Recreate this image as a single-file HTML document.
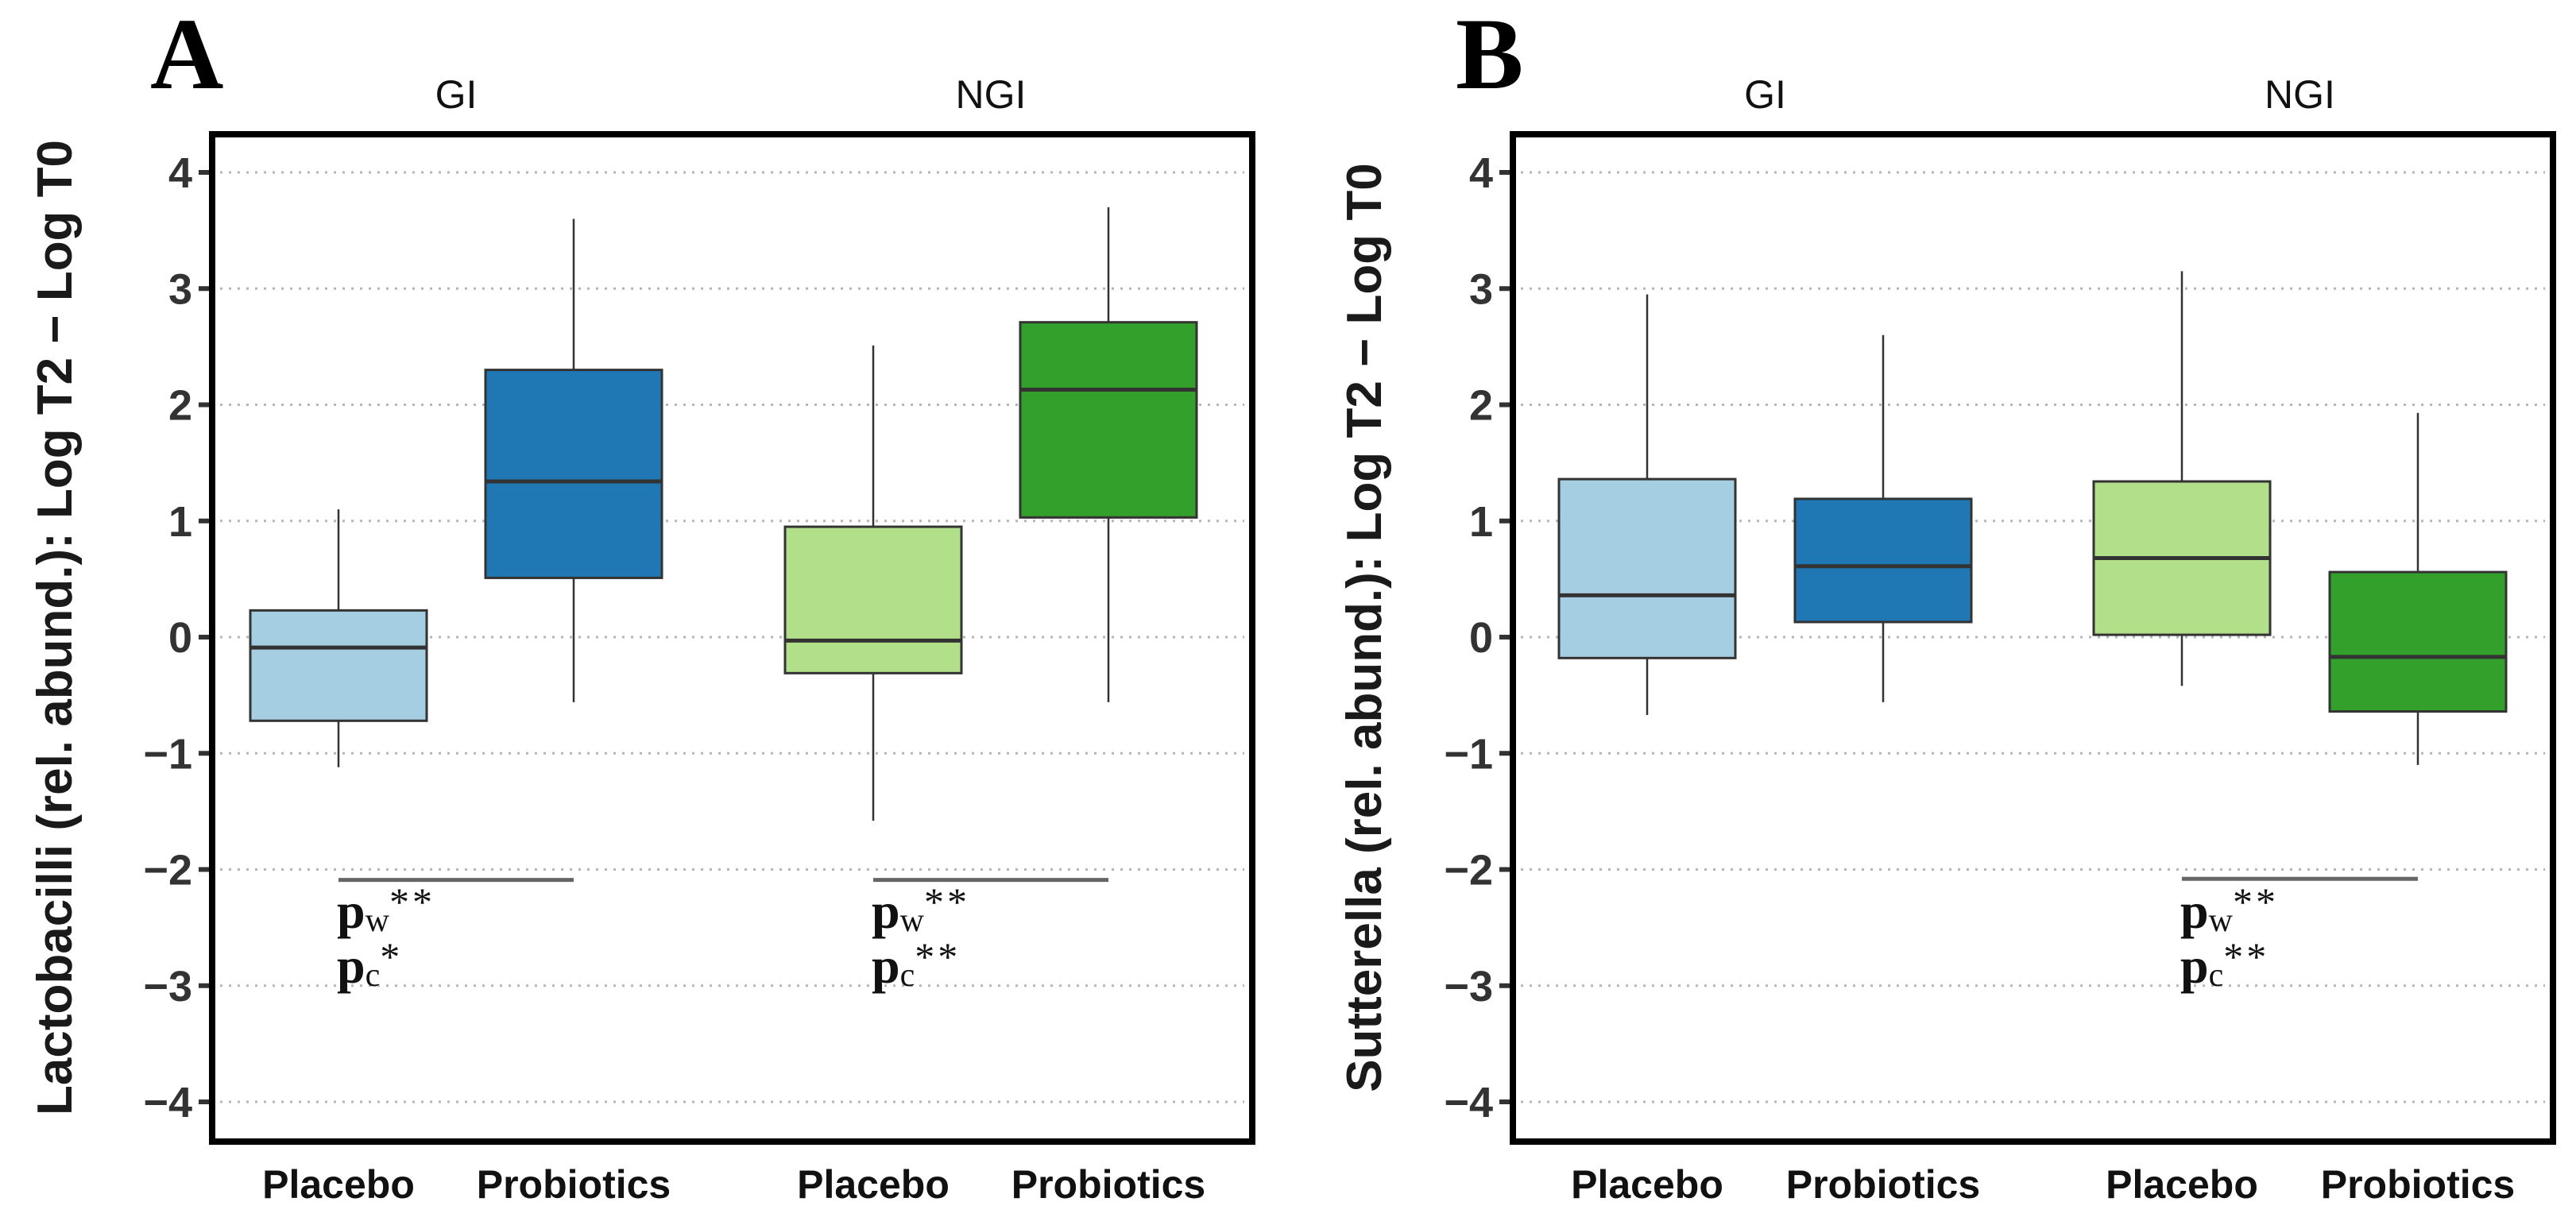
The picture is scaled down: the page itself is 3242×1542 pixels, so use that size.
<!DOCTYPE html>
<html><head><meta charset="utf-8"><style>
html,body{margin:0;padding:0;background:#fff;}
svg{display:block;}
</style></head><body>
<svg id="fig" width="3242" height="1542" viewBox="0 0 3242 1542" xmlns="http://www.w3.org/2000/svg"></svg>
<script>
const categories = ["Placebo","Probiotics","Placebo","Probiotics"];
const facets = ["GI","NGI"];
const fills = ["#a6cee3","#1f78b4","#b2df8a","#33a02c"];
const tickValues = [4,3,2,1,0,-1,-2,-3,-4];
const tickLabels = ["4","3","2","1","0","\u22121","\u22122","\u22123","\u22124"];
// Panel A (Lactobacilli)
const aWhiskerHigh = [1.10, 3.60, 2.51, 3.70];
const aQ3 = [0.23, 2.30, 0.95, 2.71];
const aMedian = [-0.09, 1.34, -0.03, 2.13];
const aQ1 = [-0.72, 0.51, -0.31, 1.03];
const aWhiskerLow = [-1.12, -0.56, -1.58, -0.56];
// Panel B (Sutterella)
const bWhiskerHigh = [2.95, 2.60, 3.15, 1.93];
const bQ3 = [1.36, 1.19, 1.34, 0.56];
const bMedian = [0.36, 0.61, 0.68, -0.17];
const bQ1 = [-0.18, 0.13, 0.02, -0.64];
const bWhiskerLow = [-0.67, -0.56, -0.42, -1.10];
// significance annotations
const aSigLevel = [-2.09, -2.09];
const aSigW = ["**","**"];
const aSigC = ["*","**"];
const bSigLevel = [null, -2.08];
const bSigW = [null,"**"];
const bSigC = [null,"**"];

const NS = "http://www.w3.org/2000/svg";
const svg = document.getElementById("fig");
function mk(tag, attrs, parent){
  const e = document.createElementNS(NS, tag);
  for (const k in attrs) e.setAttribute(k, attrs[k]);
  (parent||svg).appendChild(e);
  return e;
}
const yScale = v => 802 - v*146.25;

function panel(cfg){
  const g = mk("g", {});
  
  
  const L = cfg.left, R = cfg.right, T = 173, B = 1433;
  tickValues.forEach((v,i)=>{
    const gl = mk("line",{x1:L+6,x2:R-6,y1:yScale(v),y2:yScale(v),stroke:"#b5b5b5","stroke-width":3,"stroke-dasharray":"3 8"},g);
    
    
    const tk = mk("line",{x1:L-21,x2:L,y1:yScale(v),y2:yScale(v),stroke:"#333","stroke-width":6},g);
    
    
    const tl = mk("text",{x:L-29,y:yScale(v)+19,"text-anchor":"end","font-family":"Liberation Sans, sans-serif","font-weight":"bold","font-size":54,fill:"#333"},g);
    tl.textContent = tickLabels[i];
    
    
  });
  categories.forEach((c,i)=>{
    const cx = cfg.centers[i], w = 222;
    const wk = mk("line",{x1:cx,x2:cx,y1:yScale(cfg.hi[i]),y2:yScale(cfg.lo[i]),stroke:"#333","stroke-width":2.5},g);
    
    
    const bx = mk("rect",{x:cx-w/2,y:yScale(cfg.q3[i]),width:w,height:yScale(cfg.q1[i])-yScale(cfg.q3[i]),fill:fills[i],stroke:"#333","stroke-width":3},g);
    
    
    const md = mk("line",{x1:cx-w/2,x2:cx+w/2,y1:yScale(cfg.med[i]),y2:yScale(cfg.med[i]),stroke:"#333","stroke-width":5},g);
    
    
    const xl = mk("text",{x:cx,y:1508,"text-anchor":"middle","font-family":"Liberation Sans, sans-serif","font-weight":"bold","font-size":50,fill:"#111"},g);
    xl.textContent = c;
    
    
  });
  facets.forEach((f,k)=>{
    const fx = (cfg.centers[2*k]+cfg.centers[2*k+1])/2;
    const ft = mk("text",{x:fx,y:136,"text-anchor":"middle","font-family":"Liberation Sans, sans-serif","font-size":50,fill:"#111"},g);
    ft.textContent = f;
    
    
    if (cfg.sig[k] !== null){
      const x1 = cfg.centers[2*k], x2 = cfg.centers[2*k+1];
      const sl = mk("line",{x1:x1,x2:x2,y1:yScale(cfg.sig[k]),y2:yScale(cfg.sig[k]),stroke:"#666","stroke-width":5},g);
      
      
      [[cfg.sw[k],"w",1168],[cfg.sc[k],"c",1237]].forEach(([stars,sub,by])=>{
        const t = mk("text",{x:x1-2,y:by,"font-family":"Liberation Serif, serif","font-weight":"bold","font-size":64,fill:"#111"},g);
        
        
        const s1 = mk("tspan",{},t); s1.textContent = "p";
        const s2 = mk("tspan",{"font-size":42,"font-weight":"normal",dy:4},t); s2.textContent = sub;
        const s3 = mk("tspan",{"font-size":50,"font-weight":"normal",dy:-20,"letter-spacing":4},t); s3.textContent = stars;
      });
    }
  });
  const fr = mk("rect",{x:L-4,y:T-4,width:R-L+8,height:B-T+8,fill:"none",stroke:"#000","stroke-width":8},g);
  
  
  const yt = mk("text",{x:0,y:0,"text-anchor":"middle","font-family":"Liberation Sans, sans-serif","font-weight":"bold","font-size":62,fill:"#1a1a1a",transform:`translate(${cfg.titleX},790) rotate(-90)`},g);
  yt.textContent = cfg.title;
  
  
  const pl = mk("text",{x:cfg.letterX,y:111,"font-family":"Liberation Serif, serif","font-weight":"bold","font-size":128,fill:"#000"},g);
  pl.textContent = cfg.letter;
  
  
}

panel({name:"panel-a-lactobacilli",left:271,right:1572,centers:[426,722,1099,1395],
  hi:aWhiskerHigh,q3:aQ3,med:aMedian,q1:aQ1,lo:aWhiskerLow,sig:aSigLevel,sw:aSigW,sc:aSigC,
  title:"Lactobacilli (rel. abund.): Log T2 \u2212 Log T0",titleX:90,letter:"A",letterX:189});
panel({name:"panel-b-sutterella",left:1908,right:3209,centers:[2073,2370,2746,3043],
  hi:bWhiskerHigh,q3:bQ3,med:bMedian,q1:bQ1,lo:bWhiskerLow,sig:bSigLevel,sw:bSigW,sc:bSigC,
  title:"Sutterella (rel. abund.): Log T2 \u2212 Log T0",titleX:1738,letter:"B",letterX:1832});
</script>
</body></html>
